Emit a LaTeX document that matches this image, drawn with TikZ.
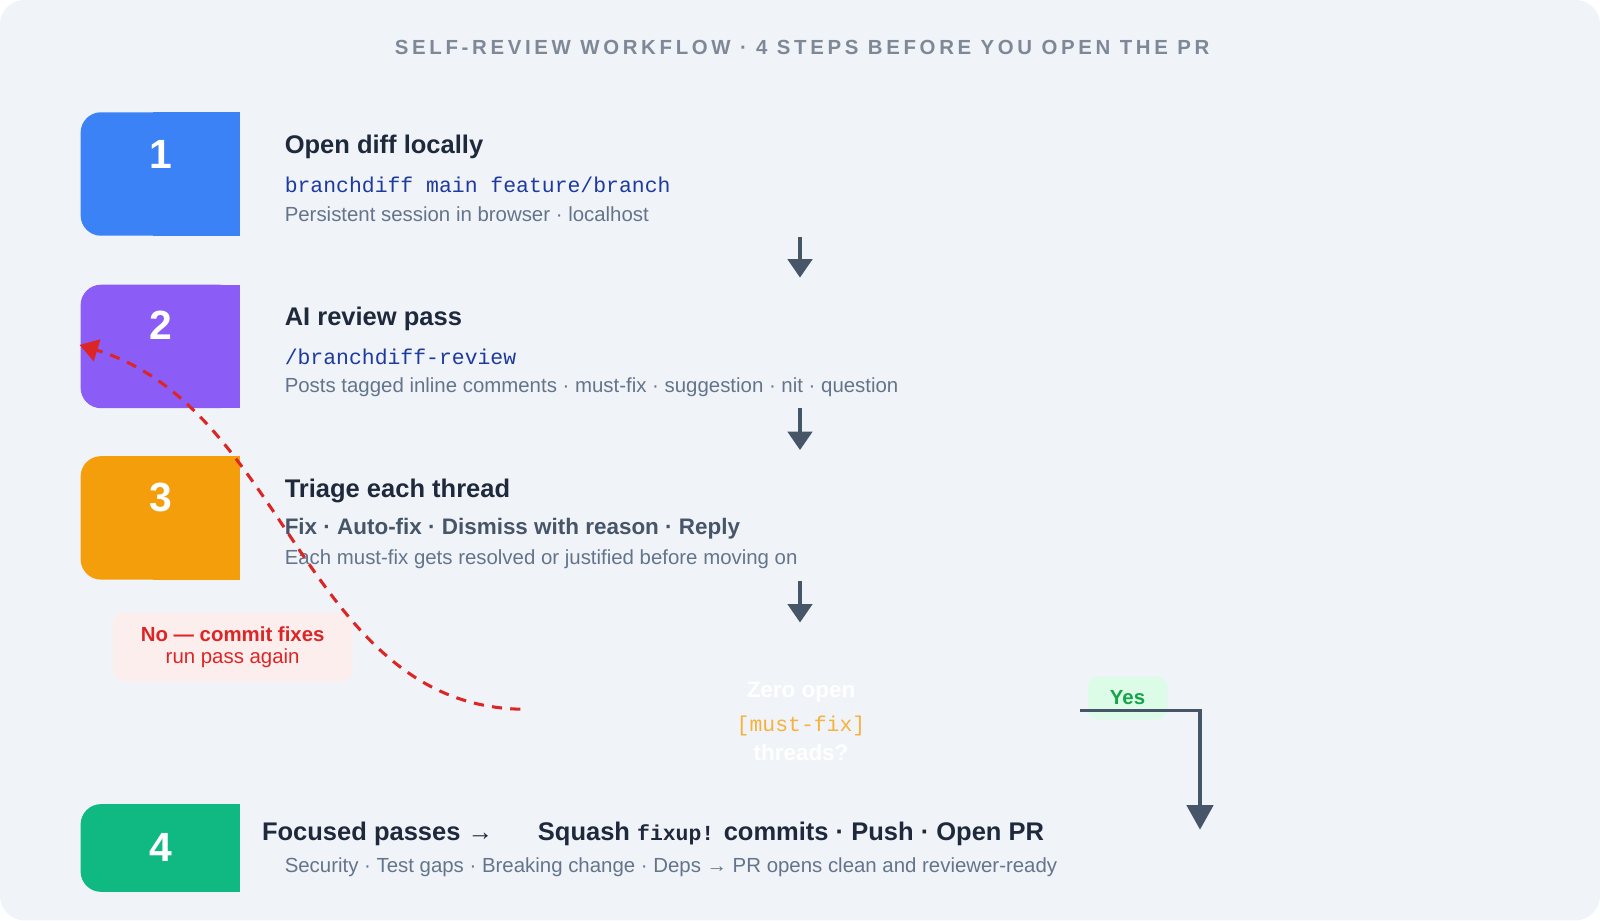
\documentclass[tikz,border=0pt]{standalone}
\usepackage{fontspec}
\setmainfont{Liberation Sans}
\setmonofont{Liberation Mono}
\usetikzlibrary{arrows.meta,positioning}
\definecolor{bg}{HTML}{F0F4F9}
\definecolor{ink}{HTML}{1E293B}
\definecolor{sub}{HTML}{64748B}
\definecolor{arr}{HTML}{475569}
\definecolor{code}{HTML}{1E3A9F}
\definecolor{cblue}{HTML}{3B82F6}
\definecolor{cpurple}{HTML}{8B5CF6}
\definecolor{corange}{HTML}{F59E0B}
\definecolor{cgreen}{HTML}{10B981}
\definecolor{nored}{HTML}{DC2626}
\definecolor{nofill}{HTML}{FDEEEE}
\definecolor{yesfill}{HTML}{DCFCE7}
\definecolor{yesgreen}{HTML}{16A34A}
\begin{document}
\begin{tikzpicture}[x=0.5pt,y=-0.5pt,
    step/.style={fill=#1,inner sep=0},
    num/.style={text=white,font=\fontsize{20}{22}\selectfont\bfseries},
    head/.style={anchor=west,text=ink,font=\fontsize{12.5}{14}\selectfont\bfseries},
    codeline/.style={anchor=west,text=code,font=\fontsize{10.5}{12}\selectfont\ttfamily},
    note/.style={anchor=west,text=sub,font=\fontsize{10}{12}\selectfont},
    down/.style={draw=arr,line width=1.5pt,-{Triangle[length=9pt,width=12pt]}}]
  \fill[bg,rounded corners=12] (0,0) rectangle (1568,902);
  \useasboundingbox (0,0) rectangle (1568,902);
  \node[text=arr!70,font=\fontsize{10}{12}\selectfont\bfseries] (title) at (786,47)
    {\addfontfeature{LetterSpace=18}SELF-REVIEW WORKFLOW · 4 STEPS BEFORE YOU OPEN THE PR};
  % step boxes, rounded on the left only
  \foreach \c/\t/\b/\n in {cblue/110/231/1,cpurple/279/400/2,corange/447/568/3,cgreen/788/874/4}{
    \fill[\c,rounded corners=10] (79,\t) -- (79,\b) -- (235,\b) -- (235,\t) -- cycle;
    \fill[\c] (150,\t) rectangle (235,\b);
  }
  \node[num] (n1) at (158,151) {1};
  \node[num] (n2) at (158,319) {2};
  \node[num] (n3) at (158,488) {3};
  \node[num] (n4) at (158,830) {4};
  % step texts
  \node[head] (h1) at (272,144) {Open diff locally};
  \node[codeline] (c1) at (272,181) {branchdiff main feature/branch};
  \node[note] (s1) at (272,210) {Persistent session in browser · localhost};
  \node[head] (h2) at (272,313) {AI review pass};
  \node[codeline] (c2) at (272,350) {/branchdiff-review};
  \node[note] (s2) at (272,379) {Posts tagged inline comments · must-fix · suggestion · nit · question};
  \node[head] (h3) at (272,481) {Triage each thread};
  \node[anchor=west,text=arr,font=\fontsize{11}{13}\selectfont\bfseries] (c3) at (272,518)
    {Fix · Auto-fix · Dismiss with reason · Reply};
  \node[note] (s3) at (272,548) {Each must-fix gets resolved or justified before moving on};
  \node[head,anchor=center] (h4) at (640,817)
    {Focused passes → \hspace{1.2em} Squash {\ttfamily\fontsize{10.5}{12}\selectfont fixup!} commits · Push · Open PR};
  \node[note] (s4) at (272,850) {Security · Test gaps · Breaking change · Deps → PR opens clean and reviewer-ready};
  % decision (white on light background)
  \node[text=white,font=\fontsize{11}{13}\selectfont\bfseries] (d1) at (785,678) {Zero open};
  \node[text=corange!80,font=\fontsize{10.5}{12}\selectfont\ttfamily] (d2) at (785,711) {[must-fix]};
  \node[text=white,font=\fontsize{11}{13}\selectfont\bfseries] (d3) at (785,737) {threads?};
  % down arrows
  \coordinate (a1) at (784,232); \coordinate (b1) at (784,272);
  \coordinate (a2) at (784,400); \coordinate (b2) at (784,441);
  \coordinate (a3) at (784,569); \coordinate (b3) at (784,610);
  \draw[down] (a1) -- (b1);
  \draw[down] (a2) -- (b2);
  \draw[down] (a3) -- (b3);
  % no branch
  \node[fill=nofill,rounded corners=6,minimum width=117.5pt,minimum height=34pt,
        align=center,text=nored,font=\fontsize{10}{12}\selectfont] (no) at (228,634)
    {{\bfseries No — commit fixes}\\[-1pt] run pass again};
  \coordinate (noS) at (510,695);
  \coordinate (noE) at (78,338);
  \draw[nored,line width=1.5pt,dash pattern=on 5pt off 4pt,-{Triangle[length=9pt,width=11pt]}]
    (noS) .. controls (300,690) and (280,400) .. (noE);
  % yes branch
  \node[fill=yesfill,rounded corners=5,minimum width=39pt,minimum height=21pt,
        text=yesgreen,font=\fontsize{10}{12}\selectfont\bfseries] (yes) at (1105,684) {Yes};
  \coordinate (y0) at (1058,696); \coordinate (y1) at (1176,696); \coordinate (y2) at (1176,813);
  \draw[arr,line width=1.5pt,-{Triangle[length=12pt,width=13pt]}] (y0) -- (y1) -- (y2);
\end{tikzpicture}
\end{document}
